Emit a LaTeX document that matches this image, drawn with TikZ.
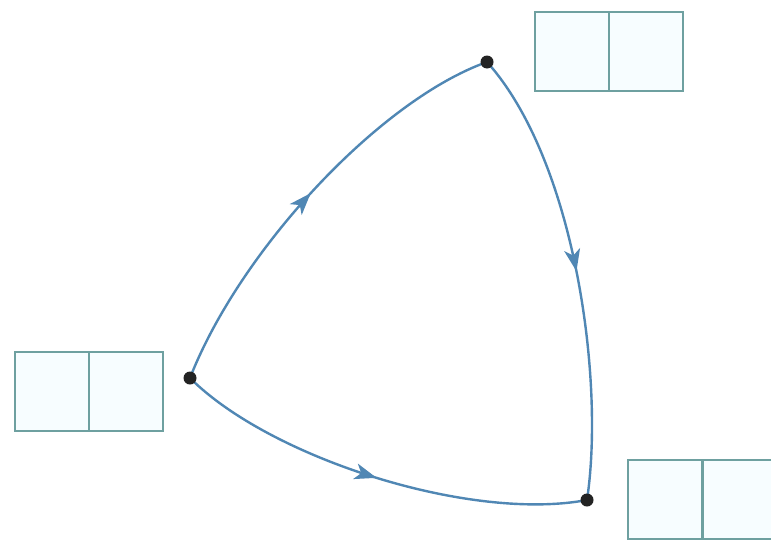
\documentclass[tikz,border=0pt]{standalone}
\usetikzlibrary{decorations.markings,arrows.meta}
\definecolor{edgeblue}{RGB}{80,135,180}
\definecolor{boxline}{RGB}{110,160,160}
\definecolor{dotc}{RGB}{35,35,35}
\tikzset{
  edge/.style={draw=edgeblue,line width=2.4pt,
    postaction={decorate},
    decoration={markings,mark=at position 0.5 with {\arrow{Stealth[length=22pt,width=16pt,inset=6pt]}}},
    color=edgeblue},
  vdot/.style={circle,fill=dotc,inner sep=0pt,minimum size=13pt},
  cellbox/.style={draw=boxline,line width=1.3pt,fill=cyan!3,minimum width=74pt,minimum height=79pt,inner sep=0pt,outer sep=0pt}
}
\begin{document}
\begin{tikzpicture}[x=1pt,y=-1pt]
\useasboundingbox (0,0) rectangle (771,544);
\fill[white] (0,0) rectangle (771,544);
% boxes
\node[cellbox,anchor=north west] (l1) at (15,352) {};
\node[cellbox,anchor=north west] (l2) at (89,352) {};
\node[cellbox,anchor=north west] (t1) at (535,12) {};
\node[cellbox,anchor=north west] (t2) at (609,12) {};
\node[cellbox,anchor=north west] (r1) at (628,460) {};
\node[cellbox,anchor=north west] (r2) at (703,460) {};
% vertices
\coordinate (A) at (190,378);
\coordinate (B) at (487,62);
\coordinate (C) at (587,500);
\draw[edge] (A) .. controls (240,250) and (380,100) .. (B);
\draw[edge] (B) .. controls (575,160) and (605,380) .. (C);
\draw[edge] (A) .. controls (270,458) and (470,522) .. (C);
\node[vdot] (a) at (A) {};
\node[vdot] (b) at (B) {};
\node[vdot] (c) at (C) {};
\end{tikzpicture}
\end{document}
